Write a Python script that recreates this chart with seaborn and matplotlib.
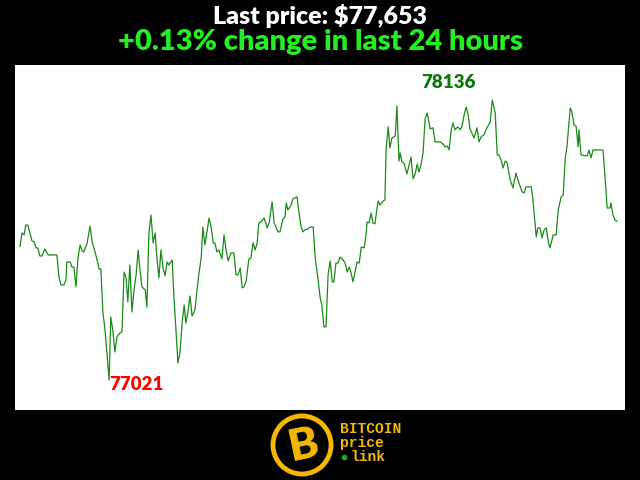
import matplotlib
matplotlib.use('Agg')
import matplotlib.pyplot as plt
import seaborn as sns
import pandas as pd
from matplotlib.patches import Circle
from matplotlib.lines import Line2D

# BTC price over the last 24 hours (minutes since start, USD)
minutes = [0, 5, 10, 14, 19, 24, 29, 34, 39, 43, 48, 53, 60, 68, 89, 94, 99, 106, 111, 113,
           121, 125, 130, 135, 140, 145, 150, 154, 162, 169, 174, 181, 186, 191, 195, 200, 205, 215, 219, 224,
           229, 234, 241, 246, 251, 256, 260, 265, 270, 275, 280, 285, 289, 294, 302, 306, 311, 316, 321, 326,
           330, 335, 340, 345, 350, 355, 359, 367, 371, 376, 381, 386, 391, 396, 400, 405, 410, 415, 422, 427,
           432, 437, 441, 446, 456, 461, 466, 470, 475, 480, 487, 492, 497, 502, 509, 516, 521, 526, 531, 536,
           540, 545, 552, 557, 562, 567, 572, 576, 581, 589, 596, 601, 608, 613, 622, 627, 634, 639, 642, 646,
           654, 658, 668, 673, 678, 683, 687, 695, 699, 707, 712, 719, 724, 728, 733, 738, 743, 748, 753, 757,
           762, 767, 772, 779, 784, 789, 794, 798, 803, 808, 813, 818, 823, 830, 835, 837, 842, 847, 851, 856,
           861, 864, 868, 876, 880, 883, 888, 892, 897, 902, 905, 909, 914, 917, 921, 926, 933, 943, 948, 953,
           958, 962, 967, 972, 977, 982, 989, 996, 1001, 1008, 1013, 1020, 1025, 1030, 1035, 1040, 1044, 1049, 1056, 1061,
           1066, 1071, 1076, 1081, 1085, 1095, 1102, 1107, 1112, 1119, 1126, 1134, 1139, 1146, 1151, 1155, 1160, 1165, 1170, 1175,
           1182, 1189, 1196, 1204, 1211, 1216, 1220, 1233, 1237, 1245, 1249, 1254, 1259, 1264, 1269, 1274, 1278, 1286, 1293, 1298,
           1305, 1310, 1315, 1319, 1327, 1331, 1336, 1341, 1346, 1348, 1353, 1368, 1372, 1377, 1382, 1387, 1406, 1411, 1416, 1423,
           1425, 1430, 1435, 1440]
prices = [77552, 77607, 77599, 77638, 77638, 77607, 77575, 77571, 77547, 77547, 77515, 77515, 77543, 77519, 77519, 77431, 77400, 77400, 77420, 77491,
          77491, 77471, 77471, 77392, 77511, 77559, 77535, 77531, 77567, 77634, 77571, 77531, 77499, 77463, 77463, 77292, 77221, 77021, 77272, 77217,
          77133, 77193, 77209, 77213, 77451, 77428, 77332, 77479, 77292, 77380, 77440, 77539, 77467, 77392, 77380, 77312, 77607, 77678, 77567, 77607,
          77511, 77428, 77539, 77467, 77436, 77491, 77479, 77499, 77360, 77221, 77089, 77133, 77248, 77320, 77248, 77292, 77356, 77276, 77300, 77380,
          77451, 77507, 77630, 77559, 77666, 77630, 77567, 77567, 77531, 77539, 77503, 77599, 77539, 77495, 77527, 77527, 77440, 77440, 77467, 77388,
          77392, 77412, 77503, 77507, 77567, 77539, 77567, 77647, 77650, 77666, 77627, 77647, 77730, 77647, 77611, 77611, 77662, 77670, 77726, 77698,
          77718, 77742, 77750, 77686, 77630, 77611, 77619, 77623, 77630, 77630, 77507, 77420, 77348, 77320, 77233, 77233, 77440, 77495, 77412, 77412,
          77487, 77487, 77511, 77499, 77487, 77451, 77471, 77451, 77412, 77451, 77491, 77487, 77551, 77547, 77607, 77650, 77647, 77686, 77647, 77643,
          77706, 77734, 77718, 77734, 77738, 77941, 78029, 77945, 77985, 77989, 77993, 78112, 77893, 77925, 77889, 77885, 77841, 77909, 77822, 77841,
          77881, 77849, 77877, 77925, 78060, 78084, 78021, 78025, 77969, 77969, 77969, 77961, 77949, 77953, 77937, 78017, 78044, 78017, 78029, 78017,
          78032, 78076, 78108, 78076, 78021, 77985, 78025, 77969, 77989, 77997, 78025, 78048, 78136, 78084, 77917, 77917, 77897, 77865, 77893, 77885,
          77818, 77786, 77845, 77802, 77770, 77766, 77790, 77790, 77738, 77591, 77627, 77627, 77587, 77619, 77627, 77571, 77547, 77599, 77599, 77698,
          77750, 77758, 77905, 77949, 78104, 78088, 78036, 78032, 77949, 78017, 77917, 77913, 77937, 77905, 77937, 77937, 77937, 77826, 77706, 77706,
          77726, 77678, 77658, 77653]

title_line1 = 'Last price: $77,653'
title_line2 = '+0.13% change in last 24 hours'
logo_words = ['BITCOIN', 'price', 'link']

df = pd.DataFrame({'minute': minutes, 'price': prices})

sns.set_style('white')
plt.rcParams['font.family'] = ['Lato', 'DejaVu Sans']

fig = plt.figure(figsize=(6.4, 4.8), dpi=100, facecolor='black')
ax = fig.add_axes([15 / 640, 1 - 410 / 480, 610 / 640, 345 / 480])
ax.set_facecolor('white')

sns.lineplot(data=df, x='minute', y='price', color='#1a8a1a', linewidth=0.9,
             estimator=None, ax=ax)

ax.set_xlim(-12, 1459)
ax.set_ylim(76902, 78275)
ax.set_xticks([])
ax.set_yticks([])
ax.set_xlabel('')
ax.set_ylabel('')
for s in ax.spines.values():
    s.set_visible(False)

# high / low labels
hi = df['price'].idxmax()
lo = df['price'].idxmin()
ax.annotate(str(df['price'][hi]), (df['minute'][hi], df['price'][hi]),
            xytext=(-44, 17), textcoords='offset pixels', ha='center', va='center',
            color='#0a7a0a', fontsize=13.5, fontweight='heavy')
ax.annotate(str(df['price'][lo]), (df['minute'][lo], df['price'][lo]),
            xytext=(0, -4), textcoords='offset pixels', ha='left', va='center',
            color='#ff0000', fontsize=13.5, fontweight='heavy')

# titles
fig.text(0.5, 1 - 16 / 480, title_line1, ha='center', va='center',
         color='white', fontsize=18, fontweight='heavy')
fig.text(0.5, 1 - 42 / 480, title_line2, ha='center', va='center',
         color='#22ee22', fontsize=21, fontweight='heavy')

# logo
gold = '#f5b800'
lax = fig.add_axes([269 / 640, 1 - 478 / 480, 66 / 640, 66 / 480])
lax.set_xlim(-1, 1)
lax.set_ylim(-1, 1)
lax.set_aspect('equal')
lax.axis('off')
lax.add_patch(Circle((0, 0), 0.88, facecolor='black', edgecolor=gold, linewidth=3.5))
lax.text(0.04, -0.02, 'B', ha='center', va='center', color=gold, fontsize=32,
         fontweight='heavy', rotation=12)

for i, word in enumerate(logo_words):
    fig.text((340 + 10 * (i == 2)) / 640, 1 - (429 + 14 * i) / 480, word, ha='left', va='center',
             color=gold, fontsize=10.5, fontweight='bold', family='Liberation Mono')
fig.add_artist(Line2D([344 / 640], [1 - 457 / 480], marker='o', markersize=3,
                      color='#22aa22', linestyle='none', transform=fig.transFigure))

fig.savefig('out.png', dpi=100, facecolor='black')
